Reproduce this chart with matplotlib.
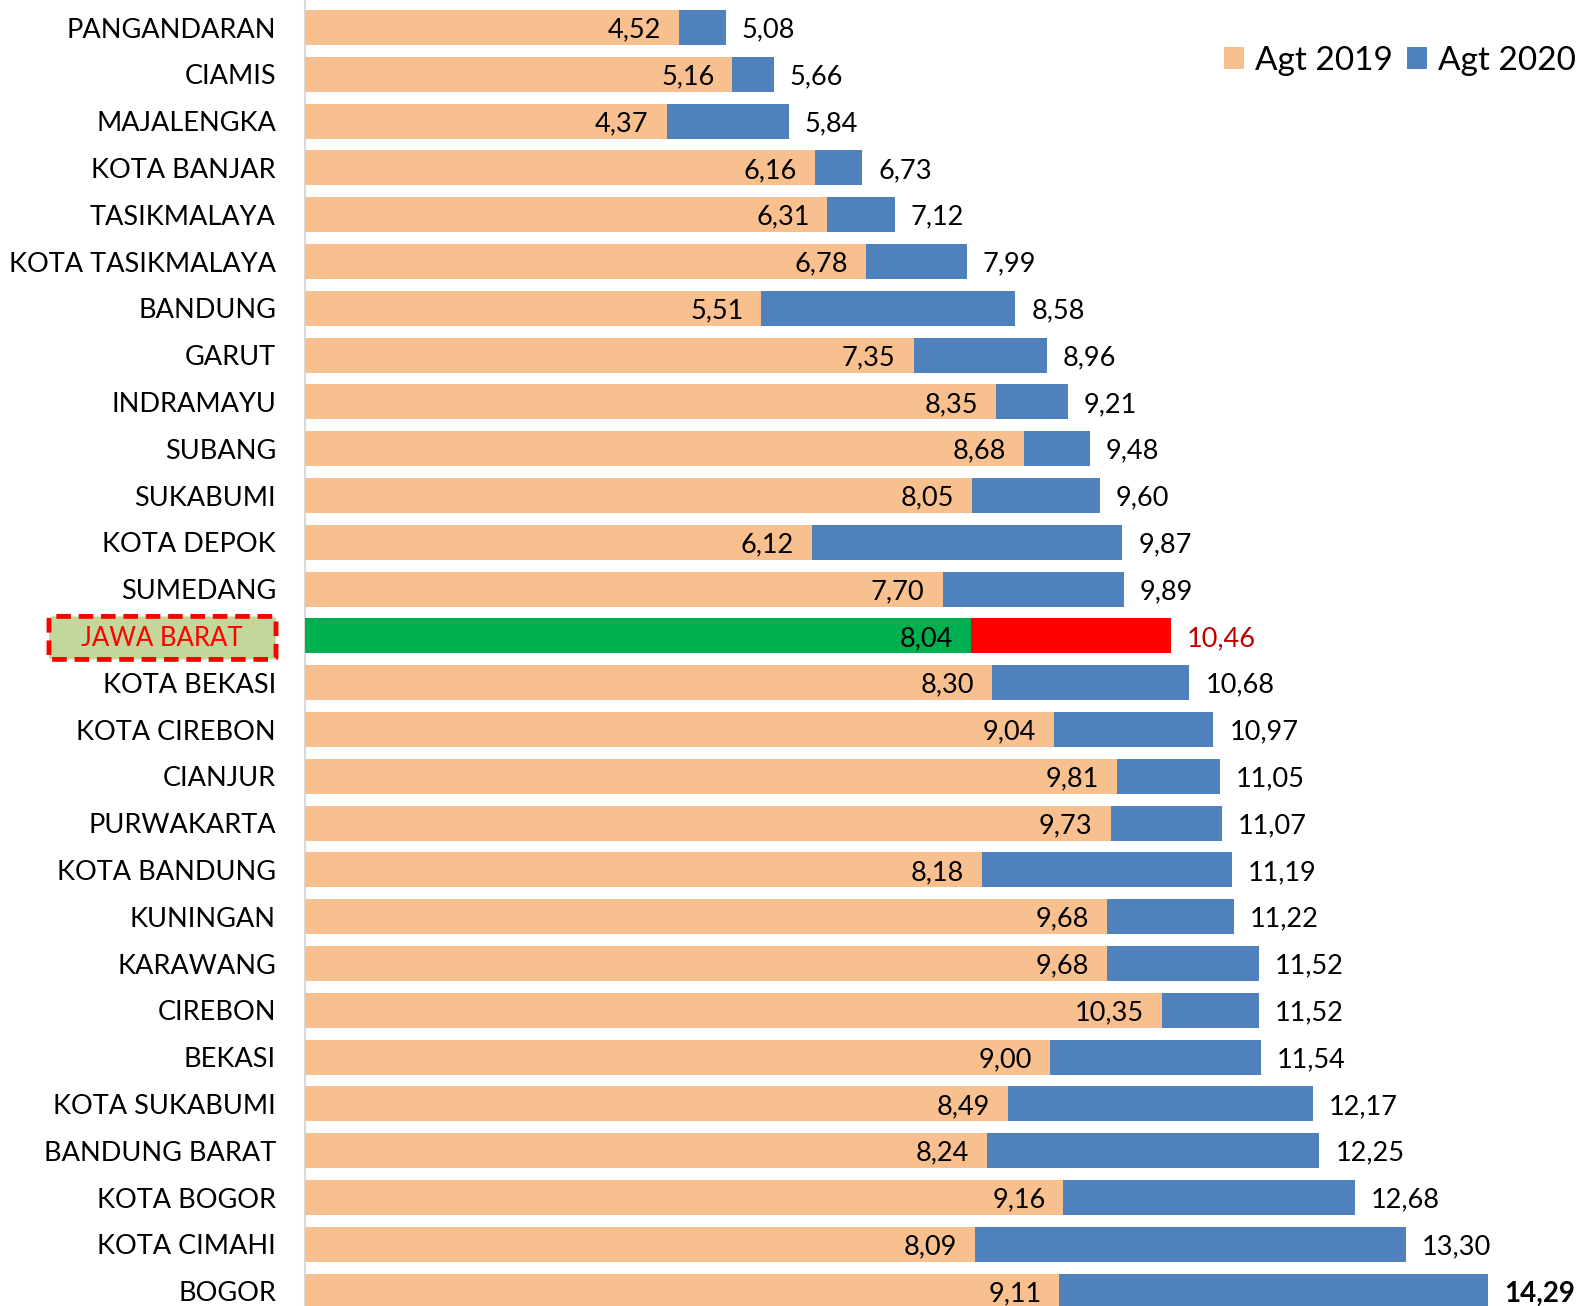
import matplotlib
matplotlib.use("Agg")
import matplotlib.pyplot as plt
from matplotlib.patches import FancyBboxPatch, Patch

regions = ["PANGANDARAN", "CIAMIS", "MAJALENGKA", "KOTA BANJAR", "TASIKMALAYA",
           "KOTA TASIKMALAYA", "BANDUNG", "GARUT", "INDRAMAYU", "SUBANG",
           "SUKABUMI", "KOTA DEPOK", "SUMEDANG", "JAWA BARAT", "KOTA BEKASI",
           "KOTA CIREBON", "CIANJUR", "PURWAKARTA", "KOTA BANDUNG", "KUNINGAN",
           "KARAWANG", "CIREBON", "BEKASI", "KOTA SUKABUMI", "BANDUNG BARAT",
           "KOTA BOGOR", "KOTA CIMAHI", "BOGOR"]
agt_2019 = [4.52, 5.16, 4.37, 6.16, 6.31, 6.78, 5.51, 7.35, 8.35, 8.68,
            8.05, 6.12, 7.70, 8.04, 8.30, 9.04, 9.81, 9.73, 8.18, 9.68,
            9.68, 10.35, 9.00, 8.49, 8.24, 9.16, 8.09, 9.11]
agt_2020 = [5.08, 5.66, 5.84, 6.73, 7.12, 7.99, 8.58, 8.96, 9.21, 9.48,
            9.60, 9.87, 9.89, 10.46, 10.68, 10.97, 11.05, 11.07, 11.19, 11.22,
            11.52, 11.52, 11.54, 12.17, 12.25, 12.68, 13.30, 14.29]
province = "JAWA BARAT"
series_names = ["Agt 2019", "Agt 2020"]

PEACH = "#F8C08F"
BLUE = "#4F81BD"
GREEN = "#00B050"
RED = "#FF0000"
DARKRED = "#C00000"

plt.rcParams["font.family"] = ["Lato", "DejaVu Sans"]

W, H = 1587, 1306
fig = plt.figure(figsize=(W / 100, H / 100), dpi=100)
x0 = 305
ax = fig.add_axes([x0 / W, 0, 1 - x0 / W, 1])

scale = 82.8  # px per unit
ax.set_xlim(0, (W - x0) / scale)
pitch = 46.8
ax.set_ylim((H - 27.5) / pitch, -27.5 / pitch)

ys = list(range(len(regions)))
c19 = [GREEN if r == province else PEACH for r in regions]
c20 = [RED if r == province else BLUE for r in regions]
ax.barh(ys, agt_2020, height=0.75, color=c20, zorder=2)
ax.barh(ys, agt_2019, height=0.75, color=c19, zorder=3)

fs = 19.5
px = 1 / scale
dy = 2.5 / pitch  # small downward nudge for text baselines
for y, r, a, b in zip(ys, regions, agt_2019, agt_2020):
    s19 = f"{a:.2f}".replace(".", ",")
    s20 = f"{b:.2f}".replace(".", ",")
    ax.text(a - 18 * px, y + dy, s19, ha="right", va="center",
            fontsize=fs, color="black", zorder=4)
    if r == province:
        ax.text(b + 16 * px, y + dy, s20, ha="left", va="center",
                fontsize=fs, color=DARKRED, zorder=4)
    elif r == "BOGOR":
        ax.text(b + 16 * px, y + dy, s20, ha="left", va="center",
                fontsize=fs + 0.5, color="black", fontweight="bold", zorder=4)
    else:
        ax.text(b + 16 * px, y + dy, s20, ha="left", va="center",
                fontsize=fs, color="black", zorder=4)

# category labels drawn in the left margin
for y, r in zip(ys, regions):
    yf = 1 - (27.5 + pitch * y + 2.5) / H
    if r == province:
        box = FancyBboxPatch((49 / W, yf - 21 / H), (276 - 49) / W, 43 / H,
                             boxstyle="round,pad=0,rounding_size=0.002",
                             transform=fig.transFigure, facecolor="#C4D79B",
                             edgecolor=RED, linewidth=3.5, linestyle=(0, (3, 1.6)))
        fig.patches.append(box)
        fig.text(162 / W, yf, r, ha="center", va="center", fontsize=fs - 1,
                 color=RED)
    else:
        fig.text(276 / W, yf, r, ha="right", va="center", fontsize=fs,
                 color="black")

ax.set_xticks([])
ax.set_yticks([])
for side in ["top", "right", "bottom"]:
    ax.spines[side].set_visible(False)
ax.spines["left"].set_color("#D9D9D9")
ax.spines["left"].set_linewidth(1.5)

handles = [Patch(facecolor=PEACH, label=series_names[0]),
           Patch(facecolor=BLUE, label=series_names[1])]
fig.legend(handles=handles, loc="upper right", bbox_to_anchor=(1.012, 0.988),
           ncol=2, frameon=False, fontsize=24, handlelength=0.6,
           handleheight=0.6, handletextpad=0.35, columnspacing=0.4)

fig.savefig("out.png", dpi=100)
